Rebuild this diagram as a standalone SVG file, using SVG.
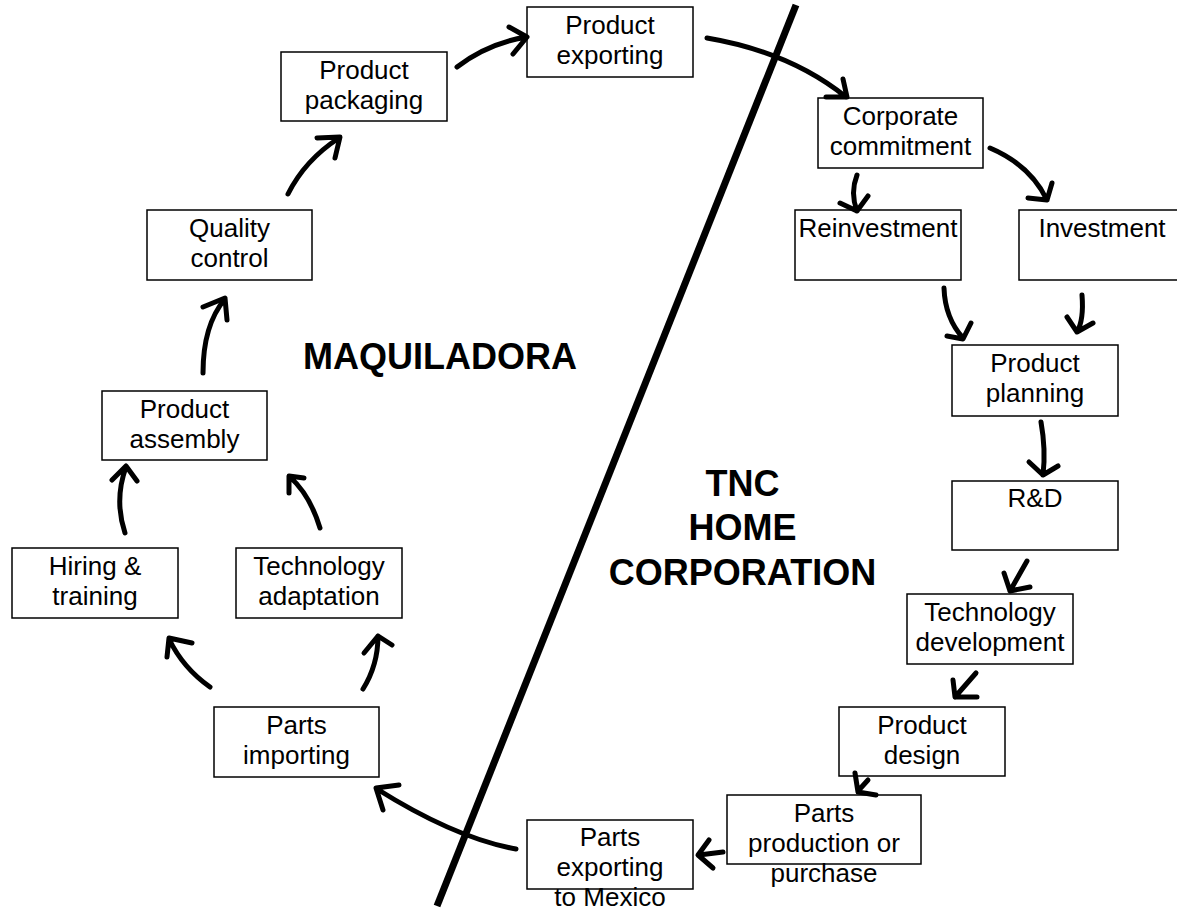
<svg xmlns="http://www.w3.org/2000/svg" width="1177" height="914" viewBox="0 0 1177 914">
<style>
.box{fill:#fff;stroke:#000;stroke-width:1.5}
.t{font-family:"Liberation Sans",Arial,sans-serif;font-size:26px;fill:#000;text-anchor:middle}
.b{font-family:"Liberation Sans",Arial,sans-serif;font-size:36px;font-weight:bold;fill:#000;text-anchor:middle}
.a{fill:none;stroke:#000;stroke-width:5;stroke-linecap:round;stroke-linejoin:round}
</style>
<rect width="1177" height="914" fill="#fff"/>
<line x1="796" y1="5" x2="437" y2="906" stroke="#000" stroke-width="7"/>
<g id="n-exporting"><rect class="box" x="527" y="7" width="166" height="70"/><text class="t" x="610" y="34">Product</text><text class="t" x="610" y="64">exporting</text></g>
<g id="n-packaging"><rect class="box" x="281" y="52" width="166" height="69"/><text class="t" x="364" y="79">Product</text><text class="t" x="364" y="109">packaging</text></g>
<g id="n-quality"><rect class="box" x="147" y="210" width="165" height="70"/><text class="t" x="229.5" y="237">Quality</text><text class="t" x="229.5" y="267">control</text></g>
<g id="n-assembly"><rect class="box" x="102" y="391" width="165" height="69"/><text class="t" x="184.5" y="418">Product</text><text class="t" x="184.5" y="448">assembly</text></g>
<g id="n-hiring"><rect class="box" x="12" y="548" width="166" height="70"/><text class="t" x="95" y="575">Hiring &amp;</text><text class="t" x="95" y="605">training</text></g>
<g id="n-techadapt"><rect class="box" x="236" y="548" width="166" height="70"/><text class="t" x="319" y="575">Technology</text><text class="t" x="319" y="605">adaptation</text></g>
<g id="n-importing"><rect class="box" x="214" y="707" width="165" height="70"/><text class="t" x="296.5" y="734">Parts</text><text class="t" x="296.5" y="764">importing</text></g>
<g id="n-partsexport"><rect class="box" x="527" y="820" width="166" height="69"/><text class="t" x="610" y="846">Parts</text><text class="t" x="610" y="876">exporting</text><text class="t" x="610" y="906">to Mexico</text></g>
<g id="n-partsprod"><rect class="box" x="727" y="795" width="194" height="69"/><text class="t" x="824" y="822">Parts</text><text class="t" x="824" y="852">production or</text><text class="t" x="824" y="882">purchase</text></g>
<g id="n-design"><rect class="box" x="839" y="707" width="166" height="69"/><text class="t" x="922" y="734">Product</text><text class="t" x="922" y="764">design</text></g>
<g id="n-techdev"><rect class="box" x="907" y="594" width="166" height="70"/><text class="t" x="990" y="621">Technology</text><text class="t" x="990" y="651">development</text></g>
<g id="n-rd"><rect class="box" x="952" y="481" width="166" height="69"/><text class="t" x="1035" y="507">R&amp;D</text></g>
<g id="n-planning"><rect class="box" x="952" y="345" width="166" height="71"/><text class="t" x="1035" y="372">Product</text><text class="t" x="1035" y="402">planning</text></g>
<g id="n-reinvest"><rect class="box" x="795" y="210" width="166" height="70"/><text class="t" x="878" y="237">Reinvestment</text></g>
<g id="n-invest"><rect class="box" x="1019" y="210" width="166" height="70"/><text class="t" x="1102" y="237">Investment</text></g>
<g id="n-corporate"><rect class="box" x="818" y="98" width="165" height="70"/><text class="t" x="900.5" y="125">Corporate</text><text class="t" x="900.5" y="155">commitment</text></g>
<g id="l-maquiladora"><text class="b" x="440" y="369">MAQUILADORA</text></g>
<g id="l-tnc"><text class="b" x="742.5" y="496">TNC</text><text class="b" x="742.5" y="540">HOME</text><text class="b" x="742.5" y="585">CORPORATION</text></g>
<g id="connectors">
<path class="a" d="M457,67 Q487,44 526,37 M509,27 L527,37 L513,54"/>
<path class="a" d="M707,38 Q790,52 846,97 M826,97 L847,97 L843,79"/>
<path class="a" d="M288,194 Q305,160 339,138 M317,138 L340,137 L335,158"/>
<path class="a" d="M203,373 Q203,325 225,299 M203,307 L225,298 L227,320"/>
<path class="a" d="M125,533 Q114,500 126,467 M112,480 L126,466 L137,481"/>
<path class="a" d="M320,528 Q310,495 290,477 M304,478 L289,476 L289,493"/>
<path class="a" d="M210,687 Q183,668 169,639 M192,643 L169,638 L167,657"/>
<path class="a" d="M363,689 Q378,665 378,636 M364,653 L378,636 L392,645"/>
<path class="a" d="M516,849 Q455,838 377,789 M399,785 L376,788 L383,810"/>
<path class="a" d="M723,852 L699,855 M709,840 L698,855 L713,868"/>
<path class="a" d="M868,780 L858,791 M855,773 L858,792 L876,795"/>
<path class="a" d="M976,673 L955,697 M953,680 L955,697 L977,697"/>
<path class="a" d="M1027,561 L1010,591 M1004,573 L1010,591 L1030,587"/>
<path class="a" d="M1041,422 Q1046,450 1043,475 M1029,462 L1043,475 L1058,466"/>
<path class="a" d="M944,288 Q945,318 963,338 M947,336 L963,339 L971,323"/>
<path class="a" d="M1082,295 Q1084,320 1077,332 M1067,317 L1077,332 L1093,323"/>
<path class="a" d="M857,175 Q850,193 857,211 M840,203 L857,211 L868,196"/>
<path class="a" d="M990,148 Q1030,165 1047,200 M1028,198 L1047,200 L1052,183"/>
</g>
</svg>
